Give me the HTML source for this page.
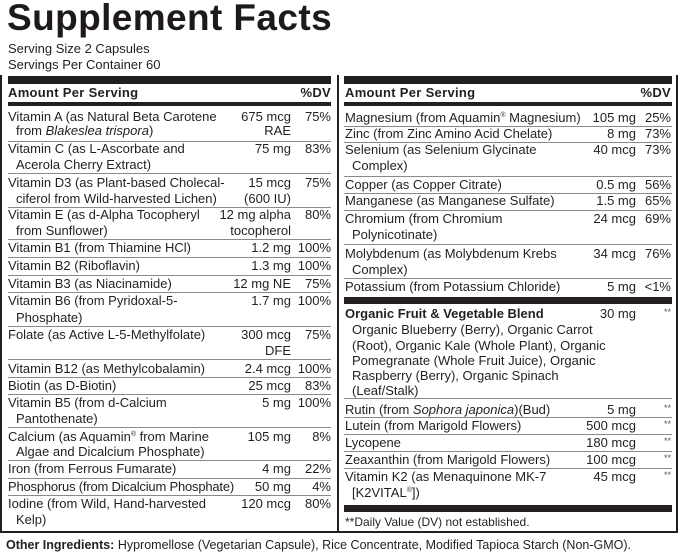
<!DOCTYPE html>
<html><head><meta charset="utf-8"><style>
*{margin:0;padding:0;box-sizing:border-box}
body{width:679px;height:553px;background:#fff;position:relative;overflow:hidden;font-family:"Liberation Sans",Arial,sans-serif;color:#231f20;font-size:13px;line-height:16px}
.a{position:absolute;white-space:nowrap}
.r{position:absolute;white-space:nowrap;text-align:right}
.h{position:absolute;height:1px;background:#8a8a8a}
.b{position:absolute;background:#231f20}
.hd{font-weight:bold;letter-spacing:0.3px}
sup{font-size:7px;line-height:0;vertical-align:5px}
</style></head><body>
<div class="a" style="left:7px;top:-2px;font-size:37px;line-height:40px;font-weight:bold;letter-spacing:0.4px;color:#1e1a1b">Supplement Facts</div>
<div class="a" style="left:8px;top:41px">Serving Size 2 Capsules</div>
<div class="a" style="left:8px;top:57px">Servings Per Container 60</div>
<div class="b" style="left:0;top:75px;width:2px;height:458px"></div>
<div class="b" style="left:676px;top:75px;width:2px;height:458px"></div>
<div class="b" style="left:0;top:531px;width:678px;height:2px"></div>
<div class="b" style="left:337px;top:75px;width:2px;height:458px"></div>
<div class="b" style="left:8px;top:76px;width:323px;height:8px"></div>
<div class="a hd" style="left:8px;top:85px">Amount Per Serving</div>
<div class="r hd" style="left:280px;width:51px;top:85px">%DV</div>
<div class="b" style="left:8px;top:102px;width:323px;height:4px"></div>
<div class="b" style="left:344px;top:76px;width:328px;height:8px"></div>
<div class="a hd" style="left:345px;top:85px">Amount Per Serving</div>
<div class="r hd" style="left:600px;width:71px;top:85px">%DV</div>
<div class="b" style="left:344px;top:102px;width:328px;height:4px"></div>

<div class="a" style="left:8px;top:109px">Vitamin A (as Natural Beta Carotene</div>
<div class="a" style="left:16px;top:123px">from <i>Blakeslea trispora</i>)</div>
<div class="r" style="left:200px;width:91px;top:109px">675 mcg</div>
<div class="r" style="left:200px;width:91px;top:123px">RAE</div>
<div class="r" style="left:290px;width:41px;top:109px">75%</div>
<div class="h" style="left:8px;top:141px;width:323px"></div>

<div class="a" style="left:8px;top:141px">Vitamin C (as L-Ascorbate and</div>
<div class="a" style="left:16px;top:157px">Acerola Cherry Extract)</div>
<div class="r" style="left:200px;width:91px;top:141px">75 mg</div>
<div class="r" style="left:290px;width:41px;top:141px">83%</div>
<div class="h" style="left:8px;top:173px;width:323px"></div>

<div class="a" style="left:8px;top:175px">Vitamin D3 (as Plant-based Cholecal-</div>
<div class="a" style="left:16px;top:191px">ciferol from Wild-harvested Lichen)</div>
<div class="r" style="left:200px;width:91px;top:175px">15 mcg</div>
<div class="r" style="left:200px;width:91px;top:191px">(600 IU)</div>
<div class="r" style="left:290px;width:41px;top:175px">75%</div>
<div class="h" style="left:8px;top:207px;width:323px"></div>

<div class="a" style="left:8px;top:207px">Vitamin E (as d-Alpha Tocopheryl</div>
<div class="a" style="left:16px;top:223px">from Sunflower)</div>
<div class="r" style="left:200px;width:91px;top:207px">12 mg alpha</div>
<div class="r" style="left:200px;width:91px;top:223px">tocopherol</div>
<div class="r" style="left:290px;width:41px;top:207px">80%</div>
<div class="h" style="left:8px;top:239px;width:323px"></div>

<div class="a" style="left:8px;top:240px">Vitamin B1 (from Thiamine HCl)</div>
<div class="r" style="left:200px;width:91px;top:240px">1.2 mg</div>
<div class="r" style="left:290px;width:41px;top:240px">100%</div>
<div class="h" style="left:8px;top:257px;width:323px"></div>

<div class="a" style="left:8px;top:258px">Vitamin B2 (Riboflavin)</div>
<div class="r" style="left:200px;width:91px;top:258px">1.3 mg</div>
<div class="r" style="left:290px;width:41px;top:258px">100%</div>
<div class="h" style="left:8px;top:275px;width:323px"></div>

<div class="a" style="left:8px;top:276px">Vitamin B3 (as Niacinamide)</div>
<div class="r" style="left:200px;width:91px;top:276px">12 mg NE</div>
<div class="r" style="left:290px;width:41px;top:276px">75%</div>
<div class="h" style="left:8px;top:292px;width:323px"></div>

<div class="a" style="left:8px;top:293px">Vitamin B6 (from Pyridoxal-5-</div>
<div class="a" style="left:16px;top:310px">Phosphate)</div>
<div class="r" style="left:200px;width:91px;top:293px">1.7 mg</div>
<div class="r" style="left:290px;width:41px;top:293px">100%</div>
<div class="h" style="left:8px;top:326px;width:323px"></div>

<div class="a" style="left:8px;top:327px">Folate (as Active L-5-Methylfolate)</div>
<div class="r" style="left:200px;width:91px;top:327px">300 mcg</div>
<div class="r" style="left:200px;width:91px;top:343px">DFE</div>
<div class="r" style="left:290px;width:41px;top:327px">75%</div>
<div class="h" style="left:8px;top:359px;width:323px"></div>

<div class="a" style="left:8px;top:361px">Vitamin B12 (as Methylcobalamin)</div>
<div class="r" style="left:200px;width:91px;top:361px">2.4 mcg</div>
<div class="r" style="left:290px;width:41px;top:361px">100%</div>
<div class="h" style="left:8px;top:377px;width:323px"></div>

<div class="a" style="left:8px;top:378px">Biotin (as D-Biotin)</div>
<div class="r" style="left:200px;width:91px;top:378px">25 mcg</div>
<div class="r" style="left:290px;width:41px;top:378px">83%</div>
<div class="h" style="left:8px;top:394px;width:323px"></div>

<div class="a" style="left:8px;top:395px">Vitamin B5 (from d-Calcium</div>
<div class="a" style="left:16px;top:411px">Pantothenate)</div>
<div class="r" style="left:200px;width:91px;top:395px">5 mg</div>
<div class="r" style="left:290px;width:41px;top:395px">100%</div>
<div class="h" style="left:8px;top:427px;width:323px"></div>

<div class="a" style="left:8px;top:429px">Calcium (as Aquamin<sup>®</sup> from Marine</div>
<div class="a" style="left:16px;top:444px">Algae and Dicalcium Phosphate)</div>
<div class="r" style="left:200px;width:91px;top:429px">105 mg</div>
<div class="r" style="left:290px;width:41px;top:429px">8%</div>
<div class="h" style="left:8px;top:460px;width:323px"></div>

<div class="a" style="left:8px;top:461px">Iron (from Ferrous Fumarate)</div>
<div class="r" style="left:200px;width:91px;top:461px">4 mg</div>
<div class="r" style="left:290px;width:41px;top:461px">22%</div>
<div class="h" style="left:8px;top:478px;width:323px"></div>

<div class="a" style="left:8px;top:479px;letter-spacing:-0.2px">Phosphorus (from Dicalcium Phosphate)</div>
<div class="r" style="left:200px;width:91px;top:479px">50 mg</div>
<div class="r" style="left:290px;width:41px;top:479px">4%</div>
<div class="h" style="left:8px;top:495px;width:323px"></div>

<div class="a" style="left:8px;top:496px">Iodine (from Wild, Hand-harvested</div>
<div class="a" style="left:16px;top:512px">Kelp)</div>
<div class="r" style="left:200px;width:91px;top:496px">120 mcg</div>
<div class="r" style="left:290px;width:41px;top:496px">80%</div>

<!-- Right column -->
<div class="a" style="left:345px;top:110px">Magnesium (from Aquamin<sup>®</sup> Magnesium)</div>
<div class="r" style="left:560px;width:76px;top:110px">105 mg</div>
<div class="r" style="left:630px;width:41px;top:110px">25%</div>
<div class="h" style="left:344px;top:126px;width:328px"></div>

<div class="a" style="left:345px;top:126px">Zinc (from Zinc Amino Acid Chelate)</div>
<div class="r" style="left:560px;width:76px;top:126px">8 mg</div>
<div class="r" style="left:630px;width:41px;top:126px">73%</div>
<div class="h" style="left:344px;top:142px;width:328px"></div>

<div class="a" style="left:345px;top:142px">Selenium (as Selenium Glycinate</div>
<div class="a" style="left:352px;top:158px">Complex)</div>
<div class="r" style="left:560px;width:76px;top:142px">40 mcg</div>
<div class="r" style="left:630px;width:41px;top:142px">73%</div>
<div class="h" style="left:344px;top:176px;width:328px"></div>

<div class="a" style="left:345px;top:177px">Copper (as Copper Citrate)</div>
<div class="r" style="left:560px;width:76px;top:177px">0.5 mg</div>
<div class="r" style="left:630px;width:41px;top:177px">56%</div>
<div class="h" style="left:344px;top:193px;width:328px"></div>

<div class="a" style="left:345px;top:193px">Manganese (as Manganese Sulfate)</div>
<div class="r" style="left:560px;width:76px;top:193px">1.5 mg</div>
<div class="r" style="left:630px;width:41px;top:193px">65%</div>
<div class="h" style="left:344px;top:210px;width:328px"></div>

<div class="a" style="left:345px;top:211px">Chromium (from Chromium</div>
<div class="a" style="left:352px;top:227px">Polynicotinate)</div>
<div class="r" style="left:560px;width:76px;top:211px">24 mcg</div>
<div class="r" style="left:630px;width:41px;top:211px">69%</div>
<div class="h" style="left:344px;top:244px;width:328px"></div>

<div class="a" style="left:345px;top:246px">Molybdenum (as Molybdenum Krebs</div>
<div class="a" style="left:352px;top:262px">Complex)</div>
<div class="r" style="left:560px;width:76px;top:246px">34 mcg</div>
<div class="r" style="left:630px;width:41px;top:246px">76%</div>
<div class="h" style="left:344px;top:278px;width:328px"></div>

<div class="a" style="left:345px;top:279px">Potassium (from Potassium Chloride)</div>
<div class="r" style="left:560px;width:76px;top:279px">5 mg</div>
<div class="r" style="left:630px;width:41px;top:279px">&lt;1%</div>
<div class="b" style="left:344px;top:297px;width:328px;height:7px"></div>

<div class="a" style="left:345px;top:306px;font-weight:bold">Organic Fruit &amp; Vegetable Blend</div>
<div class="r" style="left:560px;width:76px;top:306px">30 mg</div>
<div class="r" style="left:630px;width:41px;top:304px;font-size:9px;color:#555">**</div>
<div class="a" style="left:352px;top:322px">Organic Blueberry (Berry), Organic Carrot</div>
<div class="a" style="left:352px;top:338px">(Root), Organic Kale (Whole Plant), Organic</div>
<div class="a" style="left:352px;top:353px">Pomegranate (Whole Fruit Juice), Organic</div>
<div class="a" style="left:352px;top:368px">Raspberry (Berry), Organic Spinach</div>
<div class="a" style="left:352px;top:383px">(Leaf/Stalk)</div>
<div class="h" style="left:344px;top:398px;width:328px"></div>

<div class="a" style="left:345px;top:402px">Rutin (from <i>Sophora japonica</i>)(Bud)</div>
<div class="r" style="left:560px;width:76px;top:402px">5 mg</div>
<div class="r" style="left:630px;width:41px;top:400px;font-size:9px;color:#555">**</div>
<div class="h" style="left:344px;top:417px;width:328px"></div>

<div class="a" style="left:345px;top:418px">Lutein (from Marigold Flowers)</div>
<div class="r" style="left:560px;width:76px;top:418px">500 mcg</div>
<div class="r" style="left:630px;width:41px;top:416px;font-size:9px;color:#555">**</div>
<div class="h" style="left:344px;top:434px;width:328px"></div>

<div class="a" style="left:345px;top:435px">Lycopene</div>
<div class="r" style="left:560px;width:76px;top:435px">180 mcg</div>
<div class="r" style="left:630px;width:41px;top:433px;font-size:9px;color:#555">**</div>
<div class="h" style="left:344px;top:451px;width:328px"></div>

<div class="a" style="left:345px;top:452px">Zeaxanthin (from Marigold Flowers)</div>
<div class="r" style="left:560px;width:76px;top:452px">100 mcg</div>
<div class="r" style="left:630px;width:41px;top:450px;font-size:9px;color:#555">**</div>
<div class="h" style="left:344px;top:468px;width:328px"></div>

<div class="a" style="left:345px;top:469px">Vitamin K2 (as Menaquinone MK-7</div>
<div class="a" style="left:352px;top:485px">[K2VITAL<sup>®</sup>])</div>
<div class="r" style="left:560px;width:76px;top:469px">45 mcg</div>
<div class="r" style="left:630px;width:41px;top:467px;font-size:9px;color:#555">**</div>
<div class="b" style="left:344px;top:505px;width:328px;height:7px"></div>
<div class="a" style="left:345px;top:514px;font-size:12px">**Daily Value (DV) not established.</div>

<div class="a" style="left:6px;top:537px;font-size:12.5px"><span style="font-weight:bold">Other Ingredients:</span> Hypromellose (Vegetarian Capsule), Rice Concentrate, Modified Tapioca Starch (Non-GMO).</div>
</body></html>
